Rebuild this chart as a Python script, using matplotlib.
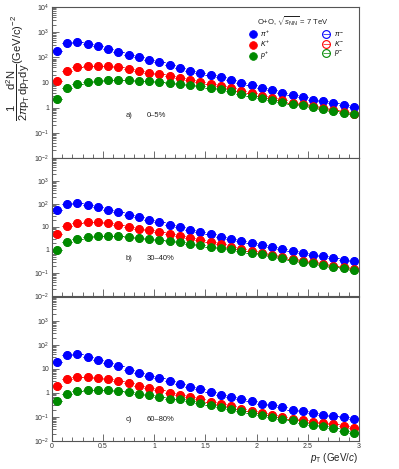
import numpy as np
import matplotlib.pyplot as plt
from matplotlib.ticker import LogLocator, FixedLocator, MultipleLocator, NullFormatter

plt.rcParams['font.family'] = ['Liberation Sans', 'DejaVu Sans']
plt.rcParams['mathtext.fontset'] = 'custom'
plt.rcParams['mathtext.rm'] = 'Liberation Sans'
plt.rcParams['mathtext.it'] = 'Liberation Sans:italic'

pt = np.round(np.arange(0.05, 3.0, 0.1), 2)

# a) 0-5%
pi_a = [175, 370, 400, 330, 275, 210, 165, 130, 103, 81, 63, 50, 39, 30, 24,
        20, 16, 12.4, 10, 8, 6.2, 4.9, 4.0, 3.2, 2.6, 2.1, 1.8, 1.56, 1.3, 1.1]
k_a = [12, 30, 42, 47, 47, 44, 40, 34, 29.5, 25, 21, 18, 15, 12.6, 10.5,
       8.8, 7.2, 6.0, 4.8, 3.8, 3.0, 2.4, 2.0, 1.6, 1.35, 1.13, 0.95, 0.8, 0.68, 0.58]
p_a = [2.2, 5.8, 8.4, 10.7, 11.7, 12.5, 12.5, 12.3, 12, 11.2, 10.5, 9.7, 8.8, 8, 7.2,
       6.3, 5.3, 4.5, 3.6, 3.0, 2.5, 2.1, 1.75, 1.45, 1.25, 1.05, 0.87, 0.74, 0.63, 0.54]

# b) 30-40%
pi_b = [53, 100, 107, 91, 73, 56, 44, 34, 26, 20, 16, 12.6, 9.8, 7.6, 5.9,
        4.8, 3.8, 3.1, 2.4, 2.0, 1.6, 1.3, 1.1, 0.93, 0.75, 0.63, 0.53, 0.45, 0.38, 0.34]
k_b = [5, 11, 15, 16.5, 16, 14.5, 12.5, 10.3, 8.5, 7.1, 6, 5, 4.1, 3.2, 2.7,
       2.2, 1.75, 1.4, 1.15, 0.92, 0.74, 0.62, 0.5, 0.41, 0.34, 0.29, 0.24, 0.21, 0.175, 0.15]
p_b = [1.0, 2.2, 3.1, 3.6, 3.9, 4.0, 4.0, 3.7, 3.4, 3.1, 2.8, 2.5, 2.2, 1.9, 1.7,
       1.4, 1.23, 1.1, 0.93, 0.77, 0.66, 0.56, 0.45, 0.37, 0.31, 0.26, 0.22, 0.19, 0.16, 0.14]

# c) 60-80%
pi_c = [20, 38, 40, 32, 24, 17.6, 12.9, 9.4, 7.0, 5.2, 4.0, 3.1, 2.4, 1.8, 1.4,
        1.1, 0.85, 0.68, 0.54, 0.45, 0.36, 0.30, 0.25, 0.20, 0.18, 0.15, 0.125, 0.106, 0.10, 0.083]
k_c = [2.0, 3.8, 4.6, 4.6, 4.2, 3.7, 3.1, 2.6, 2.0, 1.6, 1.3, 1.0, 0.85, 0.66, 0.53,
       0.42, 0.35, 0.28, 0.22, 0.18, 0.147, 0.12, 0.10, 0.083, 0.072, 0.06, 0.056, 0.051, 0.041, 0.035]
p_c = [0.48, 0.9, 1.25, 1.38, 1.38, 1.3, 1.17, 1.06, 0.93, 0.8, 0.68, 0.58, 0.53, 0.44, 0.38,
       0.30, 0.26, 0.21, 0.18, 0.147, 0.117, 0.097, 0.078, 0.071, 0.056, 0.048, 0.041, 0.035, 0.027, 0.022]

panels = [("a)", "0\u20135%", pi_a, k_a, p_a),
          ("b)", "30\u201340%", pi_b, k_b, p_b),
          ("c)", "60\u201380%", pi_c, k_c, p_c)]

colors = ['#0000ff', '#ff0000', '#008a00']
pos_names = [r'$\pi^{+}$', r'$K^{+}$', r'$p^{+}$']
neg_names = [r'$\pi^{-}$', r'$K^{-}$', r'$p^{-}$']

# axes boxes in figure fraction: (bottom, top), and label height in each
boxes = [(0.663, 0.985), (0.369, 0.663), (0.060, 0.367)]
tag_y = [0.27, 0.26, 0.14]
xtick_vals = [0, 0.5, 1, 1.5, 2, 2.5, 3]
xtick_labs = ['0', '0.5', '1', '1.5', '2', '2.5', '3']
ytick_vals = [1e-2, 1e-1, 1, 10, 1e2, 1e3, 1e4]
ytick_labs = [r'$10^{-2}$', r'$10^{-1}$', '1', '10', r'$10^{2}$', r'$10^{3}$', r'$10^{4}$']
axcol = '#555555'

fig = plt.figure(figsize=(3.99, 4.69), dpi=100)

for i, (tag, cent, pis, ks, ps) in enumerate(panels):
    b, t = boxes[i]
    ax = fig.add_axes([0.130, b, 0.770, t - b])
    ax.set_yscale('log')

    hpos, hneg = [], []
    for vals, c in zip([pis, ks, ps], colors):
        h2 = ax.errorbar(pt, vals, xerr=0.05, fmt='o', mfc='none', mec=c, color=c,
                         ms=5.6, mew=0.8, elinewidth=0.5, capsize=0)
        hneg.append(h2)
    for vals, c in zip([pis, ks, ps], colors):
        h1 = ax.errorbar(pt, vals, xerr=0.05, fmt='o', mfc=c, mec=c, color=c,
                         ms=5.6, mew=0.5, elinewidth=0.5, capsize=0)
        hpos.append(h1)
    ax.set_xlim(0, 3)
    ax.set_ylim(1e-2, 1e4)

    if i == 0:
        ax.yaxis.set_major_locator(FixedLocator(ytick_vals))
        ax.set_yticklabels(ytick_labs)
    else:
        ax.yaxis.set_major_locator(FixedLocator(ytick_vals[:-1]))
        ax.set_yticklabels(ytick_labs[:-1])
    ax.yaxis.set_minor_locator(LogLocator(base=10, subs=np.arange(2, 10), numticks=20))
    ax.yaxis.set_minor_formatter(NullFormatter())
    ax.xaxis.set_major_locator(FixedLocator(xtick_vals))
    ax.xaxis.set_minor_locator(MultipleLocator(0.1))
    ax.tick_params(which='both', direction='in', colors=axcol, labelcolor='#333333',
                   labelsize=5, top=False, right=False, width=0.6)
    ax.tick_params(which='major', length=5)
    ax.tick_params(which='minor', length=3)
    ax.tick_params(axis='y', pad=2)
    for s in ax.spines.values():
        s.set_color(axcol)
        s.set_linewidth(0.8)
    if i < 2:
        ax.set_xticklabels([])
    else:
        ax.set_xticklabels(xtick_labs)
        ax.tick_params(axis='x', pad=1.5)

    ax.text(0.24, tag_y[i], tag, transform=ax.transAxes, fontsize=5.5, color='#222222')
    ax.text(0.31, tag_y[i], cent, transform=ax.transAxes, fontsize=5.5, color='#222222')

    if i == 0:
        ax.text(0.785, 0.905, r'O+O, $\sqrt{s_{\mathrm{NN}}}$ = 7 TeV', transform=ax.transAxes,
                ha='center', va='center', fontsize=5.5, color='#222222')
        ax.legend(hpos + hneg, pos_names + neg_names, ncol=2, loc='upper left',
                  bbox_to_anchor=(0.62, 0.89), frameon=False, fontsize=5,
                  columnspacing=7.3, handletextpad=0.3, labelspacing=0.05,
                  handlelength=1.6, borderpad=0.2)

fig.text(0.897, 0.038, r'$p_{\mathrm{T}}$ (GeV/$c$)', ha='right', va='top',
         fontsize=7, color='#222222')
fig.text(0.046, 0.855,
         r'$\dfrac{1}{2\pi \mathrm{p}_{\mathrm{T}}}\dfrac{\mathrm{d}^{2}\mathrm{N}}'
         r'{\mathrm{dp}_{\mathrm{T}}\mathrm{dy}}(\mathrm{GeV}/\mathrm{c})^{-2}$',
         rotation=90, ha='center', va='center', fontsize=8, color='#222222')

fig.savefig('out.png', dpi=100)
